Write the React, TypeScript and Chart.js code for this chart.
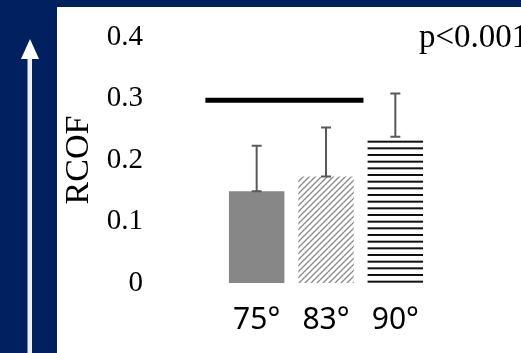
import { useEffect, useRef } from "react";
import { Chart, registerables } from "chart.js";

Chart.register(...registerables);

// Relative coefficient of friction by stance angle
const categories = ["75°", "83°", "90°"];
const meanRCOF = [0.149, 0.173, 0.238];
const upperRCOF = [0.223, 0.253, 0.308];
const yTicks = [0, 0.1, 0.2, 0.3, 0.4];
// significance bar, x given as fractional category index
const sigFrom = -0.74;
const sigTo = 1.54;
const sigValue = 0.297;
const sigLabel = "p<0.001";

const SERIF = "'Liberation Serif', 'Times New Roman', serif";
const SANS = "'Noto Sans', 'Open Sans', sans-serif";

function hatchPattern(ctx: CanvasRenderingContext2D) {
  const s = 6;
  const c = document.createElement("canvas");
  c.width = s;
  c.height = s;
  const g = c.getContext("2d")!;
  g.fillStyle = "#ffffff";
  g.fillRect(0, 0, s, s);
  g.strokeStyle = "#8a8a8a";
  g.lineWidth = 1.3;
  g.beginPath();
  g.moveTo(0, s);
  g.lineTo(s, 0);
  g.moveTo(-1, 1);
  g.lineTo(1, -1);
  g.moveTo(s - 1, s + 1);
  g.lineTo(s + 1, s - 1);
  g.stroke();
  return ctx.createPattern(c, "repeat")!;
}

function stripePattern(ctx: CanvasRenderingContext2D) {
  const c = document.createElement("canvas");
  c.width = 8;
  c.height = 20;
  const g = c.getContext("2d")!;
  g.fillStyle = "#ffffff";
  g.fillRect(0, 0, 8, 20);
  g.fillStyle = "#111111";
  [1.67, 8.33, 15].forEach((y) => g.fillRect(0, y - 1, 8, 2));
  return ctx.createPattern(c, "repeat")!;
}

const errorBars = {
  id: "errorBars",
  afterDatasetsDraw(chart: any) {
    const { ctx, scales } = chart;
    const meta = chart.getDatasetMeta(0);
    ctx.save();
    ctx.strokeStyle = "#595959";
    ctx.lineWidth = 2;
    meta.data.forEach((bar: any, i: number) => {
      const x = bar.x;
      const y0 = scales.y.getPixelForValue(meanRCOF[i]);
      const y1 = scales.y.getPixelForValue(upperRCOF[i]);
      ctx.beginPath();
      ctx.moveTo(x, y0);
      ctx.lineTo(x, y1);
      ctx.moveTo(x - 5, y0);
      ctx.lineTo(x + 5, y0);
      ctx.moveTo(x - 5, y1);
      ctx.lineTo(x + 5, y1);
      ctx.stroke();
    });
    ctx.restore();
  },
};

const significance = {
  id: "significance",
  afterDraw(chart: any) {
    const { ctx, scales, chartArea } = chart;
    const y = scales.y.getPixelForValue(sigValue);
    ctx.save();
    ctx.strokeStyle = "#000000";
    ctx.lineWidth = 5;
    ctx.lineCap = "butt";
    ctx.beginPath();
    ctx.moveTo(scales.x.getPixelForValue(sigFrom), y);
    ctx.lineTo(scales.x.getPixelForValue(sigTo), y);
    ctx.stroke();
    ctx.fillStyle = "#000000";
    ctx.font = `33px ${SERIF}`;
    ctx.textBaseline = "alphabetic";
    ctx.textAlign = "left";
    ctx.fillText(sigLabel, chartArea.right - 11, chartArea.top + 10);
    ctx.restore();
  },
};

export default function App() {
  const ref = useRef<HTMLCanvasElement>(null);

  useEffect(() => {
    document.body.style.margin = "0";
    const canvas = ref.current!;
    const ctx = canvas.getContext("2d")!;
    const fills = ["#878787", hatchPattern(ctx), stripePattern(ctx)];

    const chart = new Chart(canvas, {
      type: "bar",
      data: {
        labels: categories,
        datasets: [
          {
            data: meanRCOF,
            backgroundColor: fills as any,
            borderWidth: 0,
            categoryPercentage: 0.8,
            barPercentage: 1,
          },
        ],
      },
      options: {
        responsive: false,
        animation: false,
        devicePixelRatio: 1,
        layout: { padding: { left: 0, top: 37, right: 91, bottom: 0 } },
        plugins: {
          legend: { display: false },
          tooltip: { enabled: false },
        },
        scales: {
          x: {
            grid: { display: false, drawTicks: false },
            border: { display: false },
            ticks: {
              color: "#000000",
              font: { family: SANS, size: 30 },
              padding: 19,
              maxRotation: 0,
            },
            afterFit: (s: any) => {
              s.height = 70;
            },
          },
          y: {
            min: 0,
            max: 0.4,
            afterBuildTicks: (s: any) => {
              s.ticks = yTicks.map((v) => ({ value: v }));
            },
            grid: { display: false, drawTicks: false },
            border: { display: false },
            ticks: {
              color: "#000000",
              font: { family: SERIF, size: 29 },
              padding: 79,
              callback: (v: any) => (Number(v) === 0 ? "0" : Number(v).toFixed(1)),
            },
            title: {
              display: true,
              text: "RCOF",
              color: "#000000",
              font: { family: SERIF, size: 34 },
              padding: { top: 59, bottom: 0 },
            },
            afterFit: (s: any) => {
              s.width = 222;
              // the wide tick gap is horizontal only; keep the plot height
              s.paddingTop = 0;
              s.paddingBottom = 0;
            },
          },
        },
      },
      plugins: [errorBars, significance],
    });
    return () => chart.destroy();
  }, []);

  return (
    <div
      style={{
        position: "fixed",
        left: 0,
        top: 0,
        width: 521,
        height: 353,
        background: "#002060",
        overflow: "hidden",
      }}
    >
      <div
        style={{
          position: "absolute",
          left: 57,
          top: 7,
          right: 0,
          bottom: 0,
          background: "#ffffff",
        }}
      />
      <svg
        style={{ position: "absolute", left: 0, top: 0 }}
        width={60}
        height={353}
      >
        <polygon points="30,39 21,59 39,59" fill="#ffffff" />
        <rect x={27.5} y={58} width={4.5} height={300} fill="#f0f0f4" />
      </svg>
      <canvas
        ref={ref}
        width={521}
        height={353}
        style={{ position: "absolute", left: 0, top: 0 }}
      />
    </div>
  );
}
